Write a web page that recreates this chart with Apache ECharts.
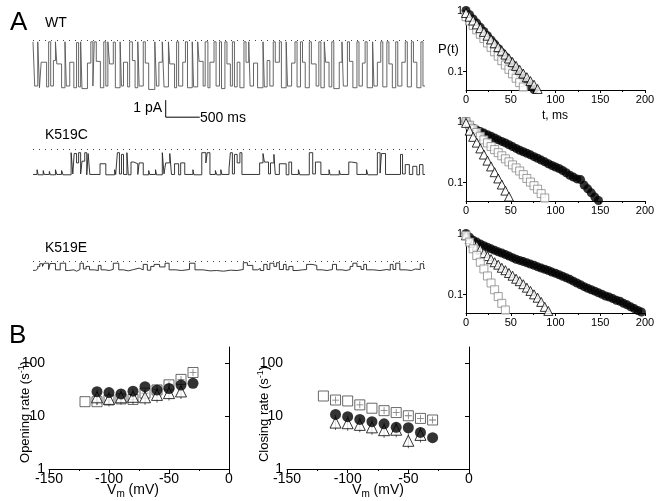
<!DOCTYPE html>
<html><head><meta charset="utf-8">
<script src="https://cdn.jsdelivr.net/npm/echarts@6/dist/echarts.min.js"></script>
<style>html,body{margin:0;padding:0;background:#fff}#c{width:660px;height:501px}</style>
</head><body><div id="c"></div>
<script>
// ---------- Panel A: single-channel traces [time ms, current pA] ----------
const traceDuration = 5760;
const wtTrace = [[0,-0.1],[25,-2.7],[70,-0.1],[95,-2.8],[120,-1.3],[200,-2.75],[230,-0.1],[260,-2.7],[300,-1.2],[330,-0.1],[350,-1.4],[420,-2.8],[470,-0.1],[490,-2.7],[540,-1.3],[600,-2.8],[640,-0.15],[670,-2.75],[700,-0.1],[720,-2.85],[800,-1.35],[850,-0.1],[880,-2.7],[900,-0.1],[930,-1.25],[990,-2.8],[1040,-0.1],[1070,-2.7],[1100,-0.1],[1125,-1.4],[1180,-0.12],[1210,-2.8],[1280,-0.1],[1300,-2.7],[1330,-1.3],[1390,-2.75],[1420,-0.1],[1460,-1.2],[1500,-2.8],[1540,-0.1],[1560,-2.7],[1620,-0.1],[1650,-1.35],[1700,-2.9],[1790,-0.1],[1815,-2.7],[1850,-1.3],[1900,-0.1],[1925,-2.75],[1990,-0.1],[2010,-1.4],[2080,-2.8],[2110,-0.1],[2140,-2.7],[2200,-1.3],[2240,-0.1],[2270,-2.8],[2340,-0.1],[2360,-2.75],[2420,-0.1],[2440,-1.25],[2500,-2.7],[2530,-0.1],[2570,-2.8],[2600,-1.3],[2660,-0.1],[2690,-2.7],[2740,-0.1],[2770,-2.85],[2820,-0.1],[2850,-1.4],[2900,-2.7],[2930,-0.1],[2960,-2.75],[3000,-1.3],[3040,-2.8],[3100,-0.1],[3130,-1.3],[3170,-0.1],[3190,-2.7],[3240,-1.35],[3300,-2.8],[3380,-0.1],[3400,-2.75],[3440,-1.2],[3480,-2.7],[3530,-0.1],[3560,-1.3],[3620,-0.1],[3650,-2.8],[3720,-0.1],[3740,-2.7],[3800,-1.35],[3850,-0.1],[3880,-2.75],[3930,-0.1],[3960,-1.3],[4000,-2.8],[4060,-0.1],[4090,-1.4],[4160,-2.7],[4200,-0.1],[4230,-2.8],[4280,-0.1],[4300,-1.3],[4350,-2.75],[4390,-0.1],[4420,-2.85],[4500,-1.3],[4540,-0.1],[4560,-2.7],[4620,-0.1],[4650,-1.25],[4700,-2.8],[4760,-0.1],[4790,-2.7],[4840,-1.35],[4880,-0.1],[4910,-2.8],[4990,-0.1],[5010,-2.7],[5060,-1.3],[5110,-0.1],[5140,-2.75],[5200,-0.1],[5230,-1.4],[5280,-2.8],[5330,-0.1],[5360,-2.7],[5420,-1.3],[5470,-0.1],[5500,-2.75],[5560,-0.1],[5590,-1.3],[5640,-2.8],[5700,-0.1],[5730,-2.7],[5760,-2.7]];
const k519cTrace = [[0,-1.48],[60,-1.2],[75,-1.5],[150,-1.25],[165,-1.48],[240,-1.3],[255,-1.5],[330,-1.2],[350,-1.48],[420,-1.25],[440,-1.5],[560,-0.2],[585,-1.45],[605,-0.25],[640,-0.8],[670,-0.2],[700,-1.45],[720,-0.7],[760,-0.2],[790,-1.5],[810,-0.25],[835,-1.48],[985,-0.85],[1070,-1.5],[1200,-1.2],[1215,-1.48],[1240,-0.2],[1270,-1.45],[1300,-0.3],[1330,-1.48],[1380,-0.2],[1400,-1.5],[1440,-0.75],[1480,-0.85],[1540,-1.48],[1560,-0.8],[1620,-1.5],[1700,-1.25],[1715,-1.48],[1800,-1.2],[1815,-1.5],[1900,-0.2],[1925,-1.45],[1950,-0.8],[2010,-0.25],[2035,-1.48],[2080,-0.85],[2140,-1.5],[2170,-0.8],[2230,-1.48],[2350,-1.2],[2365,-1.5],[2480,-0.2],[2540,-0.8],[2560,-0.2],[2600,-1.48],[2680,-1.25],[2700,-1.5],[2760,-1.2],[2775,-1.48],[2880,-1.15],[2900,-0.2],[2930,-1.45],[2960,-0.3],[3000,-0.8],[3040,-0.2],[3070,-1.48],[3330,-0.8],[3380,-0.25],[3400,-0.75],[3460,-1.45],[3490,-0.8],[3540,-0.3],[3560,-1.48],[3620,-0.85],[3720,-1.5],[3760,-0.75],[3800,-1.48],[3900,-1.2],[3920,-1.5],[4060,-0.2],[4110,-1.45],[4150,-0.75],[4230,-1.48],[4350,-1.2],[4365,-1.5],[4500,-1.25],[4515,-1.48],[4640,-0.75],[4680,-0.8],[4760,-1.48],[4900,-1.2],[4920,-1.5],[5060,-0.2],[5100,-1.4],[5120,-0.25],[5180,-1.48],[5400,-0.3],[5430,-1.45],[5470,-0.9],[5530,-1.48],[5580,-1.0],[5640,-1.5],[5680,-0.9],[5730,-1.48],[5760,-1.48]];
const k519eTrace = [[0,-0.55],[40,-0.46],[70,-0.32],[100,-0.16],[140,-0.32],[160,-0.13],[230,-0.5],[250,-0.15],[330,-0.52],[400,-0.13],[480,-0.56],[520,-0.52],[600,-0.6],[640,-0.5],[690,-0.13],[740,-0.47],[780,-0.32],[830,-0.52],[900,-0.56],[960,-0.26],[1000,-0.52],[1060,-0.56],[1120,-0.49],[1180,-0.13],[1260,-0.52],[1330,-0.58],[1400,-0.5],[1480,-0.42],[1560,-0.52],[1620,-0.2],[1680,-0.54],[1730,-0.32],[1780,-0.2],[1860,-0.35],[1940,-0.13],[2000,-0.52],[2100,-0.56],[2180,-0.5],[2300,-0.13],[2380,-0.52],[2500,-0.58],[2600,-0.56],[2700,-0.6],[2800,-0.54],[2900,-0.56],[3000,-0.5],[3090,-0.1],[3150,-0.26],[3230,-0.52],[3300,-0.44],[3340,-0.56],[3390,-0.2],[3440,-0.5],[3480,-0.13],[3540,-0.32],[3580,-0.1],[3620,-0.5],[3680,-0.2],[3720,-0.52],[3760,-0.32],[3820,-0.56],[3880,-0.52],[3960,-0.5],[4020,-0.2],[4100,-0.26],[4170,-0.52],[4250,-0.56],[4320,-0.5],[4400,-0.2],[4460,-0.52],[4540,-0.56],[4600,-0.5],[4660,-0.32],[4700,-0.13],[4760,-0.32],[4820,-0.5],[4860,-0.2],[4900,-0.52],[5000,-0.56],[5100,-0.5],[5200,-0.54],[5250,-0.2],[5290,-0.5],[5330,-0.13],[5390,-0.52],[5480,-0.56],[5560,-0.47],[5620,-0.5],[5690,-0.16],[5740,-0.44],[5760,-0.44]];
const scaleBarPA = 1, scaleBarMs = 500;
const scaleBarOrigin = [1950, -4.53];

// ---------- Panel A right: dwell-time survival P(t) ----------
const survT = [0,4,8,12,16,20,24,28,32,36,40,44,48,52,56,60,64,68,72,76,80,84,88,92,96,100,104,108,112,116,120,124,128,132,136,140,144,148,152,156,160,164,168,172,176,180,184,188,192,196];
const wtCircles = [1.0,0.853,0.728,0.622,0.531,0.453,0.386,0.330,0.282,0.240,0.205,0.175,0.149,0.128,0.109,0.093,0.079,0.068,0.058,0.051];
const wtTriangles = [0.912,0.791,0.686,0.594,0.515,0.447,0.387,0.336,0.291,0.252,0.219,0.190,0.164,0.143,0.124,0.107,0.093,0.081,0.070,0.061,0.052];
const wtSquares = [0.794,0.673,0.570,0.483,0.409,0.347,0.294,0.249,0.211,0.179,0.151,0.128,0.109,0.092,0.078,0.066,0.056];
const cCircles = [1.0,0.871,0.776,0.724,0.684,0.646,0.610,0.575,0.537,0.501,0.473,0.447,0.417,0.389,0.363,0.339,0.320,0.302,0.285,0.266,0.251,0.234,0.219,0.204,0.191,0.180,0.170,0.158,0.145,0.132,0.123,0.115,0.112,0.091,0.079,0.068,0.058,0.051];
const cSquares = [1.0,0.871,0.759,0.661,0.575,0.501,0.447,0.389,0.347,0.309,0.275,0.245,0.219,0.195,0.174,0.155,0.135,0.117,0.102,0.089,0.078,0.066,0.056];
const cTriangles = [0.95,0.708,0.562,0.452,0.363,0.288,0.229,0.184,0.148,0.117,0.093,0.074,0.059];
const eCircles = [1.0,0.871,0.776,0.724,0.676,0.631,0.596,0.562,0.531,0.501,0.479,0.452,0.427,0.403,0.380,0.363,0.347,0.331,0.316,0.302,0.285,0.272,0.260,0.248,0.234,0.224,0.211,0.200,0.188,0.178,0.166,0.155,0.145,0.135,0.127,0.120,0.114,0.107,0.101,0.095,0.091,0.086,0.081,0.078,0.072,0.068,0.063,0.059,0.055,0.052];
const eTriangles = [0.933,0.813,0.708,0.631,0.550,0.479,0.427,0.380,0.339,0.309,0.275,0.251,0.226,0.204,0.182,0.166,0.148,0.130,0.115,0.101,0.089,0.076,0.063,0.054];
const eSquares = [0.933,0.724,0.562,0.437,0.339,0.263,0.202,0.155,0.120,0.093,0.072,0.056];

// ---------- Panel B: rates vs Vm ----------
const vm = [-120,-110,-100,-90,-80,-70,-60,-50,-40,-30];
const openSquares = [18.6,18.6,20,21,20.5,27,31,38.7,49,66];
const openCircles = [null,28.7,27.6,26,29.4,35.7,31,33,38.4,41.4];
const openTriangles = [null,22.5,21,22.5,23,22.5,25,27,29,null];
const closeSquares = [23.8,20,19.2,16.2,14,12.6,11.6,10.1,9.0,8.4];
const closeCircles = [null,10.7,9.7,8.6,7.8,7.1,6.1,6.0,4.9,3.9];
const closeTriangles = [null,7.5,7.3,6.8,6.1,5.4,5.5,3.4,4.4,null];
const openSquareErrV = [-110,-100,-90,-80,-70,-60,-50,-40,-30];
const closeSquareErrV = [-110,-90,-70,-60,-50,-40,-30];
const openTriErrV = [-110,-100,-90,-80,-70,-60,-50,-40];
const closeTriErrV = [-110,-100,-90,-80,-70,-60,-50,-40];

const FONT = "'Liberation Sans', Arial, sans-serif";
const zipT = arr => arr.map((p, i) => [survT[i], p]);
const zipV = arr => vm.map((v, i) => [v, arr[i]]).filter(d => d[1] != null);
const pick = (vs, arr) => vs.map(v => [v, arr[vm.indexOf(v)]]);

const traceGrids = [
  {left:33, top:35, width:392, height:57, min:-3.05, max:0.3, data:wtTrace, color:'#555'},
  {left:33, top:145.05, width:392, height:34.85, min:-1.8, max:0.25, data:k519cTrace, color:'#222'},
  {left:33, top:256.75, width:392, height:17.85, min:-0.8, max:0.25, data:k519eTrace, color:'#222'}
];
const survGrids = [{top:8},{top:119},{top:231}];

const grids = [], xAxes = [], yAxes = [], series = [];
traceGrids.forEach((g, i) => {
  grids.push({left:g.left, top:g.top, width:g.width, height:g.height});
  xAxes.push({type:'value', gridIndex:i, min:0, max:traceDuration, show:false});
  yAxes.push({type:'value', gridIndex:i, min:g.min, max:g.max, show:false});
  series.push({type:'line', xAxisIndex:i, yAxisIndex:i, data:g.data, step:'end', showSymbol:false,
    lineStyle:{color:g.color, width:0.9}, silent:true,
    markLine:{silent:true, symbol:'none', label:{show:false},
      lineStyle:{type:[1,5], color:'#444', width:1}, data:[{yAxis:0}]}});
});
// scale bar on WT axes
series.push({type:'line', xAxisIndex:0, yAxisIndex:0, clip:false, showSymbol:false, silent:true,
  lineStyle:{color:'#000', width:1},
  data:[[scaleBarOrigin[0], scaleBarOrigin[1] + scaleBarPA], scaleBarOrigin, [scaleBarOrigin[0] + scaleBarMs, scaleBarOrigin[1]]]});

const axisLineBlack = {show:true, lineStyle:{color:'#000', width:1}};
survGrids.forEach((g, k) => {
  const i = 3 + k;
  grids.push({left:466, top:g.top, width:179, height:82});
  xAxes.push({type:'value', gridIndex:i, min:0, max:200, interval:50,
    axisLine:axisLineBlack, axisTick:{show:true, length:3, lineStyle:{color:'#000'}},
    minorTick:{show:true, splitNumber:2, length:2, lineStyle:{color:'#000'}},
    axisLabel:{color:'#000', fontSize:11, fontFamily:FONT, margin:4}, splitLine:{show:false}});
  yAxes.push({type:'log', logBase:10, gridIndex:i, min:0.05, max:1.1,
    axisLine:axisLineBlack,
    axisTick:{show:true, length:3, lineStyle:{color:'#000'}, customValues:[0.1,1]},
    axisLabel:{color:'#000', fontSize:11, fontFamily:FONT, margin:3, customValues:[0.1,1],
      formatter: v => Math.abs(v-1) < 1e-6 ? '1' : (Math.abs(v-0.1) < 1e-6 ? '0.1' : '')},
    splitLine:{show:false}, minorTick:{show:false}});
});
const circleStyle = {color:'#000'};
const triStyle = {color:'#fff', borderColor:'#000', borderWidth:1};
const sqStyle = {color:'#fff', borderColor:'#888', borderWidth:1};
function surv(i, data, kind) {
  const m = {circle:['circle',9,circleStyle], triangle:['triangle',9,triStyle], rect:['rect',8,sqStyle]}[kind];
  series.push({type:'scatter', xAxisIndex:i, yAxisIndex:i, data:zipT(data), symbol:m[0], symbolSize:m[1], itemStyle:m[2], silent:true});
}
surv(3, wtCircles, 'circle'); surv(3, wtSquares, 'rect'); surv(3, wtTriangles, 'triangle');
surv(4, cCircles, 'circle'); surv(4, cSquares, 'rect'); surv(4, cTriangles, 'triangle');
surv(5, eCircles, 'circle'); surv(5, eTriangles, 'triangle'); surv(5, eSquares, 'rect');

// Panel B
[[6, 49, 180], [7, 287, 182]].forEach(([i, left, w]) => {
  grids.push({left:left, top:347, width:w, height:122});
  xAxes.push({type:'value', gridIndex:i, min:-150, max:0, interval:50,
    axisLine:axisLineBlack, axisTick:{show:true, length:4, lineStyle:{color:'#000'}},
    minorTick:{show:true, splitNumber:2, length:2, lineStyle:{color:'#000'}},
    axisLabel:{color:'#000', fontSize:14, fontFamily:FONT, margin:3}, splitLine:{show:false}});
  yAxes.push({type:'log', logBase:10, gridIndex:i, min:1, max:200,
    axisLine:axisLineBlack,
    axisTick:{show:true, length:4, lineStyle:{color:'#000'}, customValues:[1,10,100]},
    axisLabel:{color:'#000', fontSize:14, fontFamily:FONT, margin:4, customValues:[1,10,100],
      formatter: v => [1,10,100].some(t => Math.abs(v-t) < 1e-6) ? String(Math.round(v)) : ''},
    splitLine:{show:false}});
});
const plusPath = 'path://M4,0H5V9H4ZM0,4H9V5H0Z';
const vbarPath = 'path://M0,0H1V10H0Z';
function bplot(i, sq, sqErr, tri, triErr, circ) {
  series.push({type:'scatter', xAxisIndex:i, yAxisIndex:i, data:zipV(sq), symbol:'rect', symbolSize:10,
    itemStyle:{color:'#fff', borderColor:'#444', borderWidth:1}, silent:true});
  series.push({type:'scatter', xAxisIndex:i, yAxisIndex:i, data:pick(sqErr, sq), symbol:plusPath, symbolSize:7,
    itemStyle:{color:'#555'}, silent:true});
  series.push({type:'scatter', xAxisIndex:i, yAxisIndex:i, data:pick(triErr, tri), symbol:vbarPath, symbolSize:[1,15],
    itemStyle:{color:'#333'}, silent:true});
  series.push({type:'scatter', xAxisIndex:i, yAxisIndex:i, data:zipV(tri), symbol:'triangle', symbolSize:11,
    itemStyle:{color:'#fff', borderColor:'#000', borderWidth:1}, silent:true});
  series.push({type:'scatter', xAxisIndex:i, yAxisIndex:i, data:zipV(circ), symbol:'circle', symbolSize:11,
    itemStyle:{color:'#000'}, silent:true});
}
bplot(6, openSquares, openSquareErrV, openTriangles, openTriErrV, openCircles);
bplot(7, closeSquares, closeSquareErrV, closeTriangles, closeTriErrV, closeCircles);

function txt(x, y, text, size, align, extra) {
  return Object.assign({type:'text', x:x, y:y, silent:true,
    style:{text:text, fontSize:size, fontFamily:FONT, fill:'#000', align:align||'left', verticalAlign:'middle'}}, extra||{});
}
const richSup = {sup:{fontSize:9, fontFamily:FONT, fill:'#000', padding:[0,0,7,0]}};
const richSub = {sub:{fontSize:10, fontFamily:FONT, fill:'#000', padding:[8,0,0,0]}};
const graphics = [
  txt(10, 23, 'A', 26),
  txt(45, 23, 'WT', 14),
  txt(45, 135, 'K519C', 14),
  txt(45, 248, 'K519E', 14),
  txt(162, 108, '1 pA', 14, 'right'),
  txt(200, 118, '500 ms', 14),
  txt(438, 49, 'P(t)', 13),
  txt(555, 116, 't, ms', 12, 'center'),
  txt(9, 336, 'B', 26),
  {type:'text', x:25, y:412, rotation:Math.PI/2, silent:true,
    style:{text:'Opening rate (s{sup|-1})', fontSize:13, fontFamily:FONT, fill:'#000', align:'center', verticalAlign:'middle', rich:richSup}},
  {type:'text', x:264, y:414, rotation:Math.PI/2, silent:true,
    style:{text:'Closing rate (s{sup|-1})', fontSize:13, fontFamily:FONT, fill:'#000', align:'center', verticalAlign:'middle', rich:richSup}},
  {type:'text', x:133, y:490, silent:true,
    style:{text:'V{sub|m} (mV)', fontSize:14, fontFamily:FONT, fill:'#000', align:'center', verticalAlign:'middle', rich:richSub}},
  {type:'text', x:378, y:490, silent:true,
    style:{text:'V{sub|m} (mV)', fontSize:14, fontFamily:FONT, fill:'#000', align:'center', verticalAlign:'middle', rich:richSub}}
];

const chart = echarts.init(document.getElementById('c'), null, {renderer:'canvas'});
chart.setOption({animation:false, backgroundColor:'#fff', grid:grids, xAxis:xAxes, yAxis:yAxes, series:series, graphic:graphics});
</script></body></html>
